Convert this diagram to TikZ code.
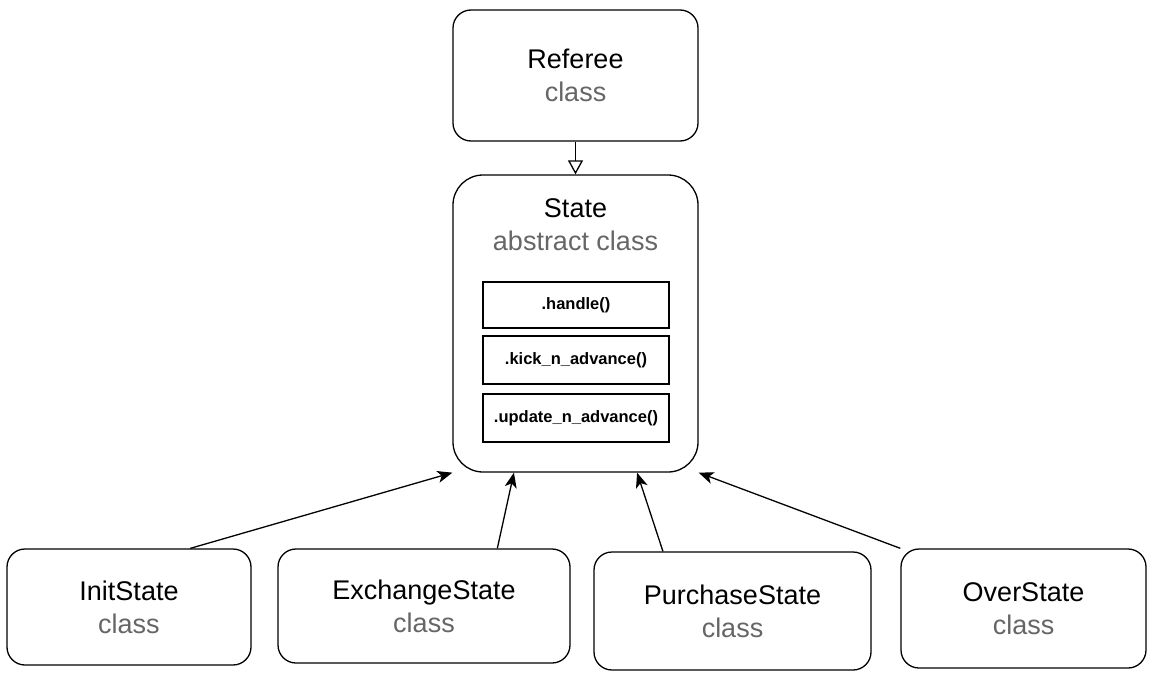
\documentclass[tikz,border=0pt]{standalone}
\usepackage{fontspec}
\setmainfont{Liberation Sans}
\usetikzlibrary{arrows.meta,calc,positioning}
\definecolor{kindgray}{HTML}{666666}

\begin{document}
\begin{tikzpicture}[x=1pt,y=-1pt,line width=1.3pt]
    \tikzstyle{box}=[draw=black,rectangle,inner sep=0pt,align=center]
    \tikzstyle{class box}=[box,rounded corners=18pt,font=\fontsize{27}{33}\selectfont]
    \tikzstyle{state box}=[box,rounded corners=30pt,minimum width=245pt,minimum height=297pt];
    \tikzstyle{method}=[box,minimum width=186pt,font=\fontsize{16.5}{19}\bfseries];
    \tikzstyle{title}=[align=center,font=\fontsize{27}{33}\selectfont];
    \tikzstyle{kind}=[text=kindgray];
    \tikzstyle{uses}=[-{Stealth[length=15pt,width=12pt,inset=4pt]}];
    \tikzstyle{extends}=[-{Triangle[open,length=14pt,width=15pt,fill=white]}];

    \useasboundingbox (0,0) rectangle (1161,682);

    % Draw the referee and the abstract state
    \node[class box,minimum width=245pt,minimum height=131pt] (R) at (575.5,75.5)
        {Referee\\\textcolor{kindgray}{class}};
    \node[state box] (S) at (575.5,323.5) {};
    \node[title,below=20pt of S.north] (S-title) {State\\\textcolor{kindgray}{abstract class}};

    % Draw the methods inside the state
    \foreach \name/\y/\h/\txt in {1/305/46/.handle(),2/360/48/.kick\_n\_advance(),3/418/48/.update\_n\_advance()}
        \node[method,minimum height=\h pt] (M-\name) at (576,\y) {\txt};

    % Draw the concrete states
    \foreach \name/\cx/\cy/\w/\h/\txt in {1/129/607/244/116/InitState,
        2/424/606/292/114/ExchangeState,
        3/732.5/611/277/118/PurchaseState,
        4/1023.5/608.5/245/119/OverState}
        \node[class box,minimum width=\w pt,minimum height=\h pt] (K-\name) at (\cx,\cy)
            {\txt\\\textcolor{kindgray}{class}};

    % Connect the referee with the state
    \draw[extends] (R.south) -- (S.north);

    % Connect every concrete state with the state
    \foreach \source/\a/\b in {1/0.75/0,2/0.75/0.25,3/0.25/0.75,4/0/1}
        \draw[uses] ($(K-\source.north west)!\a!(K-\source.north east)$)
            -- ($(S.south west)!\b!(S.south east)$);
\end{tikzpicture}
\end{document}
